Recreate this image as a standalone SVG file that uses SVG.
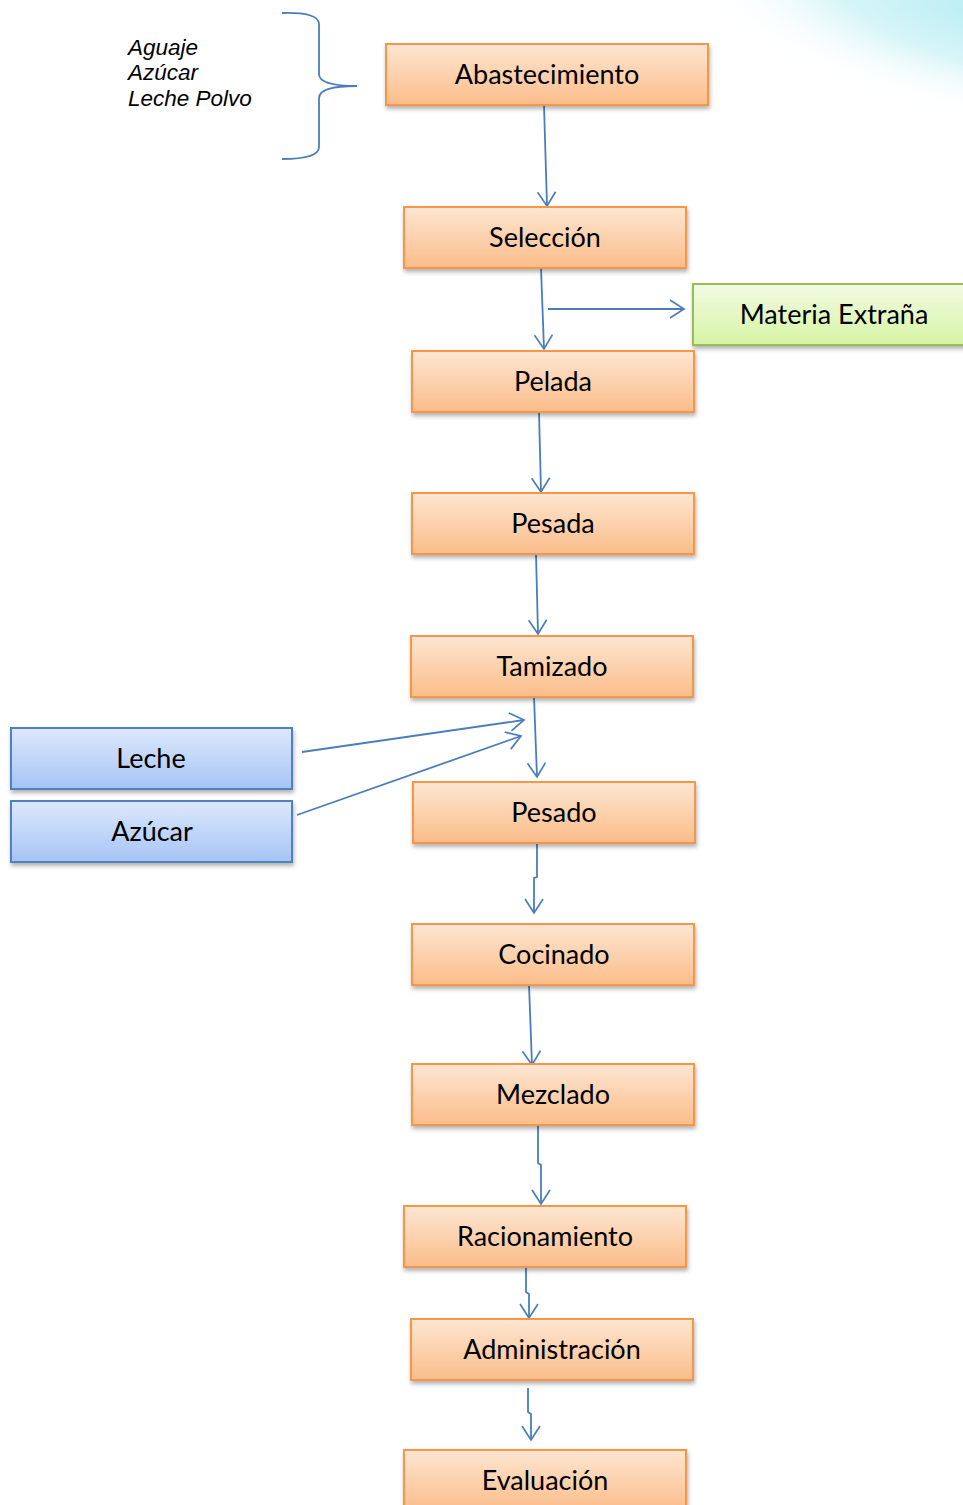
<svg xmlns="http://www.w3.org/2000/svg" width="963" height="1505" viewBox="0 0 963 1505">
<defs>
<linearGradient id="og" x1="0" y1="0" x2="0" y2="1"><stop offset="0" stop-color="#fde6d2"/><stop offset="1" stop-color="#fbbd8a"/></linearGradient>
<linearGradient id="gg" x1="0" y1="0" x2="0" y2="1"><stop offset="0" stop-color="#f2fbe2"/><stop offset="1" stop-color="#d5f4a4"/></linearGradient>
<linearGradient id="bg" x1="0" y1="0" x2="0" y2="1"><stop offset="0" stop-color="#dde8fc"/><stop offset="1" stop-color="#a5c4f6"/></linearGradient>
<radialGradient id="wash" cx="0.5" cy="0.5" r="0.5"><stop offset="0" stop-color="#b8eef4"/><stop offset="0.5" stop-color="#d8f5f8"/><stop offset="1" stop-color="#ffffff" stop-opacity="0"/></radialGradient>
<filter id="sh" x="-5%" y="-10%" width="112%" height="140%"><feDropShadow dx="1" dy="3" stdDeviation="2" flood-color="#000" flood-opacity="0.3"/></filter>
<marker id="ar" markerWidth="18" markerHeight="22" refX="15" refY="10" orient="auto" markerUnits="userSpaceOnUse"><path d="M1,1 L15,10 L1,19" fill="none" stroke="#4a7ebb" stroke-width="1.7"/></marker>
<style>
.o{fill:url(#og);stroke:#f79646;stroke-width:2;filter:url(#sh)}
.g{fill:url(#gg);stroke:#9bbb59;stroke-width:2;filter:url(#sh)}
.b{fill:url(#bg);stroke:#4f81bd;stroke-width:2;filter:url(#sh)}
.t{font-family:Lato,"Open Sans","Liberation Sans",sans-serif;font-size:27px;fill:#000;text-anchor:middle}
.c{fill:none;stroke:#4a7ebb;stroke-width:1.8;marker-end:url(#ar)}
.it{font-family:"Liberation Sans",Arial,sans-serif;font-style:italic;font-size:22.5px;fill:#000}
</style>
</defs>
<rect x="0" y="0" width="963" height="1505" fill="#fff"/>
<ellipse cx="990" cy="10" rx="320" ry="110" transform="rotate(12 990 10)" fill="url(#wash)"/>

<g id="brace">
<text class="it" x="128" y="55">Aguaje</text>
<text class="it" x="128" y="80">Azúcar</text>
<text class="it" x="128" y="106">Leche Polvo</text>
<path d="M282,13 Q319,12 319,24 L319,74 Q319,86 357,86 Q319,86 319,98 L319,147 Q319,159 282,159" fill="none" stroke="#4a7ebb" stroke-width="1.8"/>
</g>

<g id="connectors">
<path class="c" d="M544,105 L547,206"/>
<path class="c" d="M541,268 L544,349"/>
<path class="c" d="M548,309 L684,309"/>
<path class="c" d="M539,412 L541,492"/>
<path class="c" d="M536,554 L538,634"/>
<path class="c" d="M534,697 L537,777"/>
<path class="c" d="M302,752 L524,720"/>
<path class="c" d="M297,815 L521,736"/>
<path class="c" d="M537,843 L537,877 L534,878 L534,913"/>
<path class="c" d="M529,985 L532,1065"/>
<path class="c" d="M538,1125 L538,1163 L541,1165 L541,1204"/>
<path class="c" d="M526,1267 L526,1292 L529,1294 L529,1318"/>
<path class="c" d="M528,1388 L528,1412 L531,1414 L531,1440"/>
</g>

<g id="n-abastecimiento"><rect class="o" x="386" y="44" width="322" height="61"/><text class="t" x="547" y="84">Abastecimiento</text></g>
<g id="n-seleccion"><rect class="o" x="404" y="207" width="282" height="61"/><text class="t" x="545" y="247">Selección</text></g>
<g id="n-materia"><rect class="g" x="693" y="284" width="280" height="61"/><text class="t" x="834" y="324">Materia Extraña</text></g>
<g id="n-pelada"><rect class="o" x="412" y="351" width="282" height="61"/><text class="t" x="553" y="391">Pelada</text></g>
<g id="n-pesada"><rect class="o" x="412" y="493" width="282" height="61"/><text class="t" x="553" y="533">Pesada</text></g>
<g id="n-tamizado"><rect class="o" x="411" y="636" width="282" height="61"/><text class="t" x="552" y="676">Tamizado</text></g>
<g id="n-leche"><rect class="b" x="11" y="728" width="281" height="61"/><text class="t" x="151" y="768">Leche</text></g>
<g id="n-azucar"><rect class="b" x="11" y="801" width="281" height="61"/><text class="t" x="152" y="841">Azúcar</text></g>
<g id="n-pesado"><rect class="o" x="413" y="782" width="282" height="61"/><text class="t" x="554" y="822">Pesado</text></g>
<g id="n-cocinado"><rect class="o" x="412" y="924" width="282" height="61"/><text class="t" x="554" y="964">Cocinado</text></g>
<g id="n-mezclado"><rect class="o" x="412" y="1064" width="282" height="61"/><text class="t" x="553" y="1104">Mezclado</text></g>
<g id="n-racionamiento"><rect class="o" x="404" y="1206" width="282" height="61"/><text class="t" x="545" y="1246">Racionamiento</text></g>
<g id="n-administracion"><rect class="o" x="411" y="1319" width="282" height="61"/><text class="t" x="552" y="1359">Administración</text></g>
<g id="n-evaluacion"><rect class="o" x="404" y="1450" width="282" height="61"/><text class="t" x="545" y="1490">Evaluación</text></g>
</svg>
